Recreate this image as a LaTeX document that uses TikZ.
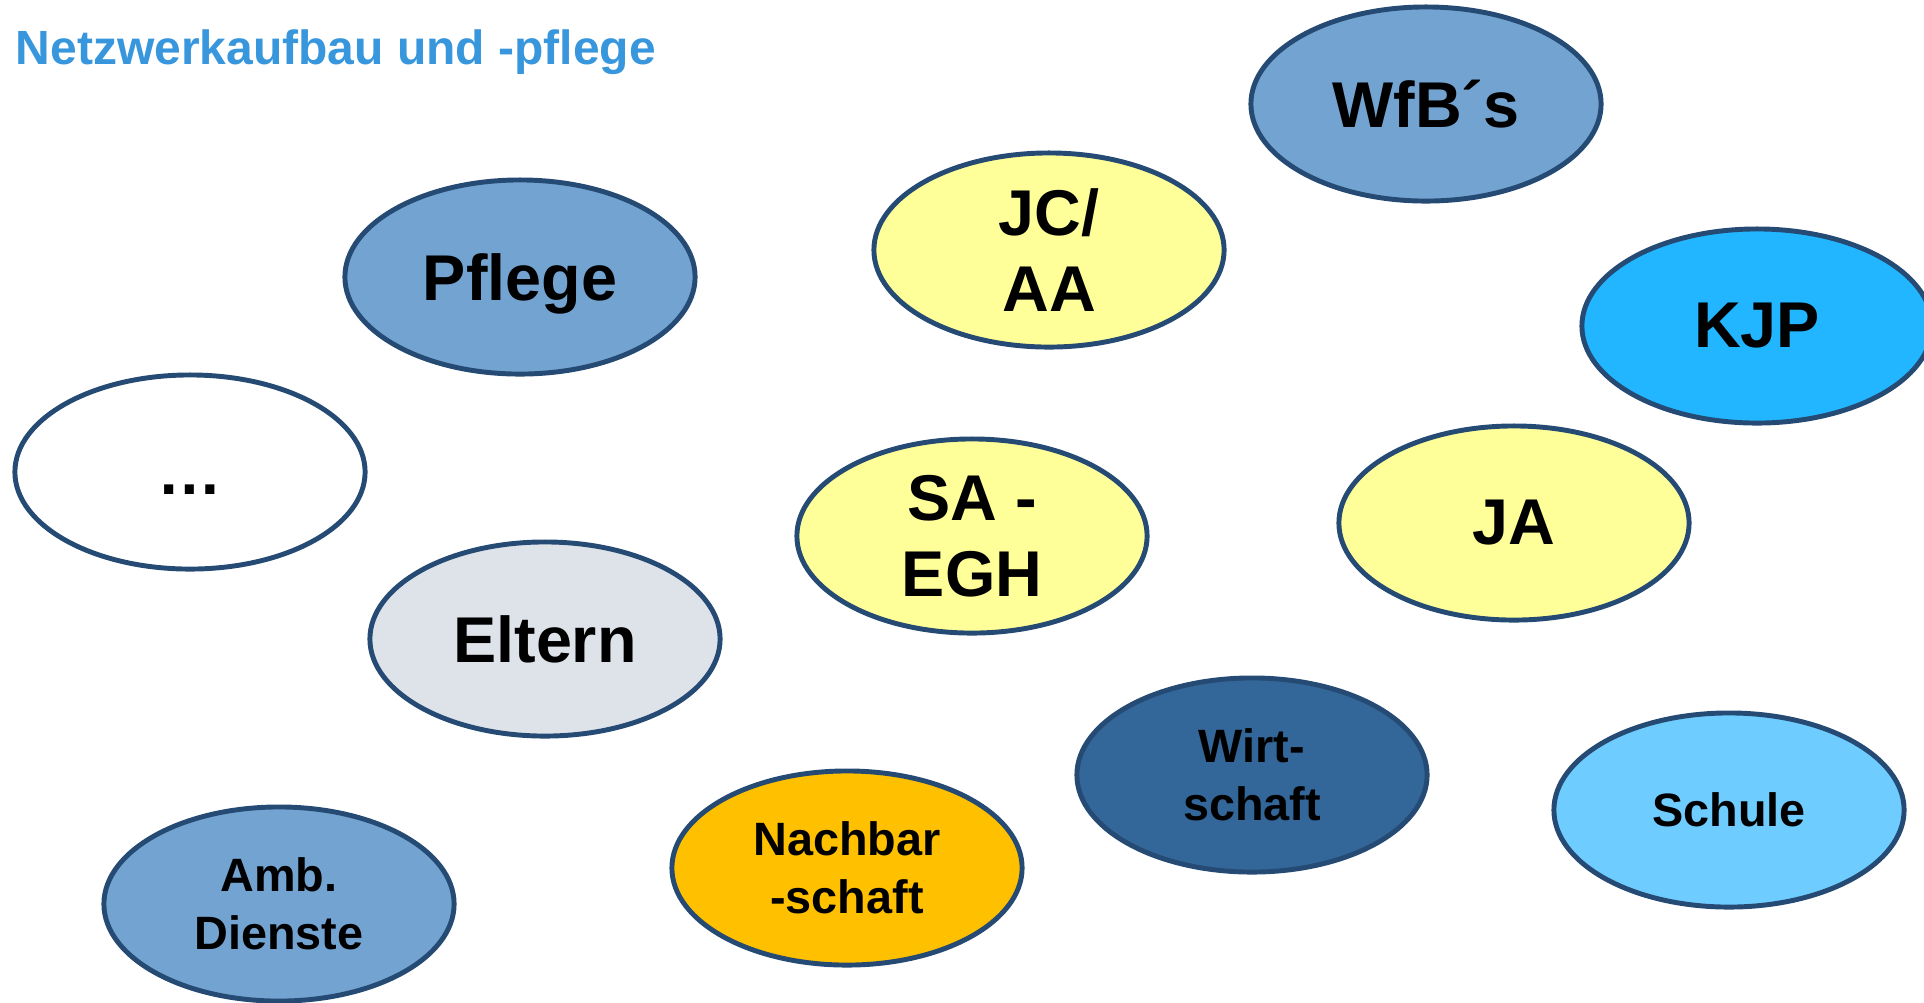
\documentclass[tikz,border=0pt]{standalone}
\usepackage{fontspec}
\setmainfont{Liberation Sans}
\usepackage{xcolor}
\usepackage{tikz}
\usetikzlibrary{shapes}
\usetikzlibrary{positioning}

\definecolor{randblau}{RGB}{37,74,115}
\definecolor{titelblau}{RGB}{56,150,220}
\definecolor{mittelblau}{RGB}{115,163,208}
\definecolor{hellgelb}{RGB}{255,255,153}
\definecolor{kjpblau}{RGB}{33,182,255}
\definecolor{elterngrau}{RGB}{222,227,234}
\definecolor{dunkelblau}{RGB}{51,102,153}
\definecolor{schulblau}{RGB}{111,204,255}
\definecolor{nachbarorange}{RGB}{255,192,0}

\tikzset{
    netz/.style={ellipse, draw=randblau, line width=1.4pt, minimum width=3.5cm,
        minimum height=1.94cm, inner sep=0pt, align=center,
        font=\bfseries\fontsize{18.4}{21.6}\selectfont},
    klein/.style={font=\bfseries\fontsize{13.3}{16.5}\selectfont}
}

\begin{document}
\begin{tikzpicture}[x=0.01cm, y=-0.01cm]
    \useasboundingbox (0, 0) rectangle (1924, 1002);

    \node[anchor=base west, inner sep=0pt, text=titelblau, font=\bfseries\fontsize{13.65}{15}\selectfont] (titel) at (15, 64) {Netzwerkaufbau und -pflege};

    \node[netz, fill=mittelblau] (wfb) at (1426, 104) {WfB´s};
    \node[netz, fill=mittelblau, text depth=0pt] (pflege) at (520, 277) {Pflege};
    \node[netz, fill=hellgelb] (jcaa) at (1049, 250) {JC/\\AA};
    \node[netz, fill=kjpblau] (kjp) at (1757, 326) {KJP};
    \node[netz, fill=white] (weitere) at (190, 472) {\vphantom{A}…};
    \node[netz, fill=hellgelb] (saegh) at (972, 536) {SA -\\EGH};
    \node[netz, fill=hellgelb] (ja) at (1514, 523) {JA};
    \node[netz, fill=elterngrau] (eltern) at (545, 639) {Eltern};

    \node[netz, klein, fill=dunkelblau] (wirtschaft) at (1252, 775) {Wirt-\\schaft};
    \node[netz, klein, fill=schulblau] (schule) at (1729, 810) {Schule};
    \node[netz, klein, fill=nachbarorange] (nachbar) at (847, 868) {Nachbar\\-schaft};
    \node[netz, klein, fill=mittelblau] (amb) at (279, 904) {Amb.\\Dienste};
\end{tikzpicture}
\end{document}
